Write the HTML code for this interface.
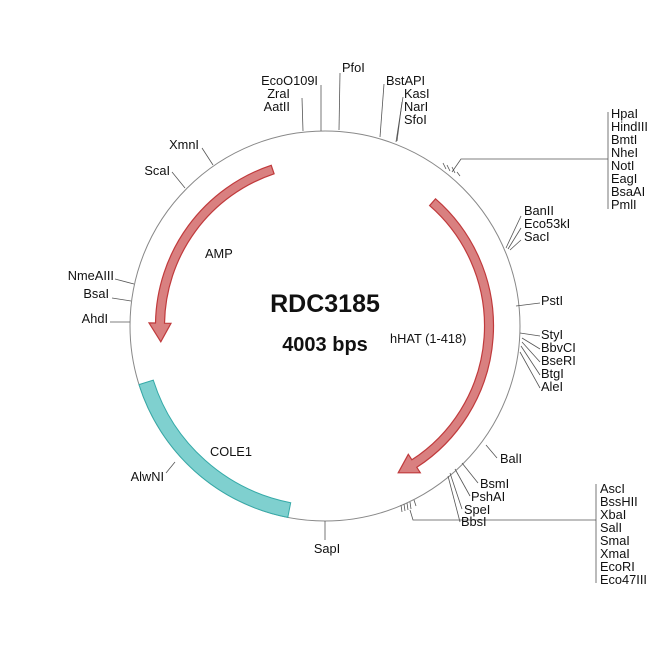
<!DOCTYPE html>
<html><head><meta charset="utf-8"><style>
body{margin:0;background:#fff}
svg{display:block}
text{font-family:"Liberation Sans",Arial,sans-serif;font-size:12.8px;fill:#111}
</style></head><body>
<svg id="s" width="650" height="650" viewBox="0 0 650 650">
<circle cx="325" cy="326" r="195" fill="none" stroke="#888" stroke-width="1"/>
<g id="shapes"></g>
<g stroke="#555" stroke-width="0.8" fill="none">
<line x1="302" y1="98" x2="303" y2="131"/>
<line x1="321" y1="85" x2="321" y2="131"/>
<line x1="340" y1="73" x2="339" y2="130"/>
<line x1="384" y1="84" x2="380" y2="137"/>
<line x1="403" y1="97" x2="396" y2="142"/>
<line x1="402" y1="102" x2="397" y2="141"/>
<polyline points="608,112 608,209"/>
<polyline points="608,159 461,159 452,172"/>
<line x1="443" y1="163" x2="446" y2="169"/><line x1="447" y1="165" x2="450" y2="171"/><line x1="452" y1="167" x2="455" y2="173"/><line x1="457" y1="172" x2="460" y2="176"/>
<polyline points="521,216 506,248"/><polyline points="521,228 508,249"/><polyline points="521,240 510,250"/>
<polyline points="540,303 516,306"/>
<polyline points="540,336 520,333"/><polyline points="540,349 522,338"/><polyline points="540,362 522,342"/><polyline points="540,375 521,346"/><polyline points="540,388 520,352"/>
<polyline points="497,458 486,445"/>
<polyline points="478,483 462,463"/><polyline points="470,496 455,469"/><polyline points="462,509 450,473"/><polyline points="460,522 448,476"/>
<polyline points="596,484 596,583"/>
<polyline points="596,520 413,520 410,510"/>
<line x1="401" y1="505" x2="402" y2="512"/><line x1="404" y1="504" x2="405" y2="511"/><line x1="407" y1="503" x2="408" y2="510"/><line x1="410" y1="502" x2="411" y2="509"/><line x1="414" y1="500" x2="416" y2="506"/>
<polyline points="202,148 213,165"/><polyline points="172,172 185,188"/>
<polyline points="115,279 134,284"/><polyline points="112,298 131,301"/><polyline points="110,322 130,322"/>
<polyline points="166,473 175,462"/>
<line x1="325" y1="521" x2="325" y2="540"/>
</g>
<g>
<text x="318" y="85" text-anchor="end">EcoO109I</text>
<text x="290" y="98" text-anchor="end">ZraI</text>
<text x="290" y="111" text-anchor="end">AatII</text>
<text x="342" y="72">PfoI</text>
<text x="386" y="85">BstAPI</text>
<text x="404" y="98">KasI</text>
<text x="404" y="111">NarI</text>
<text x="404" y="124">SfoI</text>
<text x="611" y="118">HpaI</text><text x="611" y="131">HindIII</text><text x="611" y="144">BmtI</text><text x="611" y="157">NheI</text><text x="611" y="170">NotI</text><text x="611" y="183">EagI</text><text x="611" y="196">BsaAI</text><text x="611" y="209">PmlI</text>
<text x="524" y="215">BanII</text><text x="524" y="228">Eco53kI</text><text x="524" y="241">SacI</text>
<text x="541" y="305">PstI</text>
<text x="541" y="339">StyI</text><text x="541" y="352">BbvCI</text><text x="541" y="365">BseRI</text><text x="541" y="378">BtgI</text><text x="541" y="391">AleI</text>
<text x="500" y="463">BalI</text>
<text x="480" y="488">BsmI</text><text x="471" y="501">PshAI</text><text x="464" y="514">SpeI</text><text x="461" y="526">BbsI</text>
<text x="600" y="493">AscI</text><text x="600" y="506">BssHII</text><text x="600" y="519">XbaI</text><text x="600" y="532">SalI</text><text x="600" y="545">SmaI</text><text x="600" y="558">XmaI</text><text x="600" y="571">EcoRI</text><text x="600" y="584">Eco47III</text>
<text x="199" y="149" text-anchor="end">XmnI</text>
<text x="170" y="175" text-anchor="end">ScaI</text>
<text x="114" y="280" text-anchor="end">NmeAIII</text>
<text x="109" y="298" text-anchor="end">BsaI</text>
<text x="108" y="323" text-anchor="end">AhdI</text>
<text x="164" y="481" text-anchor="end">AlwNI</text>
<text x="327" y="553" text-anchor="middle">SapI</text>
<text x="205" y="258">AMP</text>
<text x="390" y="343">hHAT (1-418)</text>
<text x="210" y="456">COLE1</text>
<text x="325" y="312" text-anchor="middle" style="font-size:25px;font-weight:bold">RDC3185</text>
<text x="325" y="351" text-anchor="middle" style="font-size:20px;font-weight:bold">4003 bps</text>
</g>
</svg>
<script>
var cx=325,cy=326;
function p(a,r){a=a*Math.PI/180;return (cx+r*Math.cos(a)).toFixed(1)+","+(cy+r*Math.sin(a)).toFixed(1);}
function band(a1,a2,r1,r2){var l=Math.abs(a2-a1)>180?1:0;var sw=a2>a1?1:0;
return "M"+p(a1,r2)+"A"+r2+","+r2+" 0 "+l+" "+sw+" "+p(a2,r2)+"L"+p(a2,r1)+"A"+r1+","+r1+" 0 "+l+" "+(1-sw)+" "+p(a1,r1)+"Z";}
function arrow(a1,a2,tip,r,w,hw){var l=Math.abs(a2-a1)>180?1:0;var sw=a2>a1?1:0;var ro=r+w/2,ri=r-w/2;
return "M"+p(a1,ro)+"A"+ro+","+ro+" 0 "+l+" "+sw+" "+p(a2,ro)+"L"+p(a2,r+hw)+"L"+p(tip,r)+"L"+p(a2,r-hw)+"L"+p(a2,ri)+"A"+ri+","+ri+" 0 "+l+" "+(1-sw)+" "+p(a1,ri)+"Z";}
var g=document.getElementById("shapes");
g.innerHTML='<path d="'+band(101,162.5,180,195)+'" fill="#7fd0cf" stroke="#35aaa8" stroke-width="1"/>'+
'<path d="'+arrow(251.5,181,174.5,165,9,11)+'" fill="#d98080" stroke="#c03a3c" stroke-width="1.2"/>'+
'<path d="'+arrow(-49,57,63.5,164,9,11)+'" fill="#d98080" stroke="#c03a3c" stroke-width="1.2"/>';
</script>
</body></html>
